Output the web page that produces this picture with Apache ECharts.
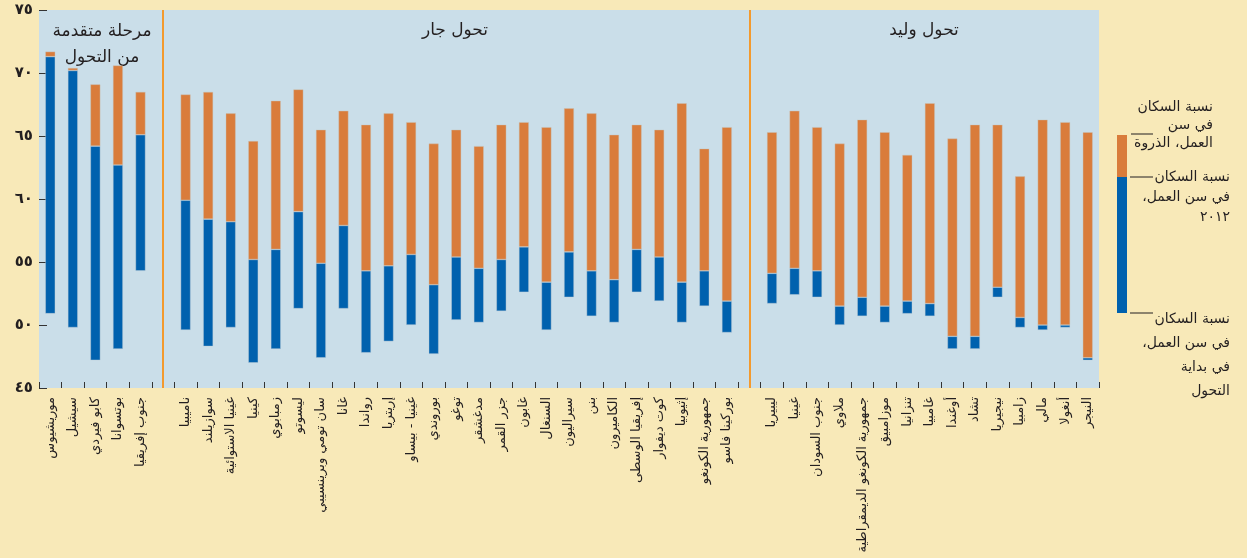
<!DOCTYPE html>
<html>
<head>
<meta charset="utf-8">
<script src="https://cdn.jsdelivr.net/npm/echarts@6/dist/echarts.min.js"></script>
<style>
  html, body { margin: 0; padding: 0; background: #F8E9B8; }
  #chart { width: 1247px; height: 558px; }
</style>
</head>
<body>
<div id="chart"></div>
<script>
// categories ('' = empty slot where the group separator sits)
const countries = [
  'موريشيوس', 'سيشيل', 'كابو فيردي', 'بوتسوانا', 'جنوب إفريقيا',
  '',
  'ناميبيا', 'سوازيلند', 'غينيا الاستوائية', 'كينيا', 'زمبابوي', 'ليسوتو',
  'سان تومي وبرينسيبي', 'غانا', 'رواندا', 'إريتريا', 'غينيا - بيساو', 'بوروندي',
  'توغو', 'مدغشقر', 'جزر القمر', 'غابون', 'السنغال', 'سيراليون', 'بنن',
  'الكاميرون', 'إفريقيا الوسطى', 'كوت ديفوار', 'إثيوبيا', 'جمهورية الكونغو', 'بوركينا فاسو',
  '',
  'ليبيريا', 'غينيا', 'جنوب السودان', 'ملاوي', 'جمهورية الكونغو الديمقراطية',
  'موزامبيق', 'تنزانيا', 'غامبيا', 'أوغندا', 'تشاد', 'نيجيريا', 'زامبيا',
  'مالي', 'أنغولا', 'النيجر'
]

// working-age share at start of transition
const startShare = [
  50.9, 49.8, 47.2, 48.1, 54.3,
  null,
  49.6, 48.3, 49.8, 47.0, 48.1, 51.3, 47.4, 51.3, 47.8, 48.7, 50.0, 47.7,
  50.4, 50.2, 51.1, 52.6, 49.6, 52.2, 50.7, 50.2, 52.6, 51.9, 50.2, 51.5, 49.4,
  null,
  51.7, 52.4, 52.2, 50.0, 50.7, 50.2, 50.9, 50.7, 48.1, 48.1, 52.2, 49.8,
  49.6, 49.8, 47.2
]

// working-age share in 2012
const share2012 = [
  71.3, 70.2, 64.2, 62.7, 65.1,
  null,
  59.9, 58.4, 58.2, 55.2, 56.0, 59.0, 54.9, 57.9, 54.3, 54.7, 55.6, 53.2,
  55.4, 54.5, 55.2, 56.2, 53.4, 55.8, 54.3, 53.6, 56.0, 55.4, 53.4, 54.3, 51.9,
  null,
  54.1, 54.5, 54.3, 51.5, 52.2, 51.5, 51.9, 51.7, 49.1, 49.1, 53.0, 50.6,
  50.0, 50.0, 47.4
]

// peak working-age share
const peakShare = [
  71.7, 70.4, 69.1, 70.6, 68.5,
  null,
  68.3, 68.5, 66.8, 64.6, 67.8, 68.7, 65.5, 67.0, 65.9, 66.8, 66.1, 64.4,
  65.5, 64.2, 65.9, 66.1, 65.7, 67.2, 66.8, 65.1, 65.9, 65.5, 67.6, 64.0, 65.7,
  null,
  65.3, 67.0, 65.7, 64.4, 66.3, 65.3, 63.5, 67.6, 64.8, 65.9, 65.9, 61.8,
  66.3, 66.1, 65.3
]

const yTickLabels = ['٤٥', '٥٠', '٥٥', '٦٠', '٦٥', '٧٠', '٧٥']
const separatorSlots = [5, 31]

const FONT = 'DejaVu Sans'
const BLUE = '#0061AE'
const ORANGE = '#D97C3B'
const INK = '#231F20'

const blueLen = share2012.map((v, i) => v == null ? null : +(v - startShare[i]).toFixed(2))
const orangeLen = peakShare.map((v, i) => v == null ? null : +(v - share2012[i]).toFixed(2))

const chart = echarts.init(document.getElementById('chart'))

chart.setOption({
  backgroundColor: '#F8E9B8',
  animation: false,
  grid: {
    left: 39, right: 148, top: 10, bottom: 170,
    show: true, backgroundColor: '#CADEE9', borderWidth: 0
  },
  xAxis: {
    type: 'category',
    data: countries,
    axisLine: { show: false },
    axisTick: { show: true, inside: true, length: 6, interval: 0, lineStyle: { color: '#333' } },
    axisLabel: {
      interval: 0, rotate: 90, margin: 9,
      fontFamily: FONT, fontSize: 13, color: INK
    }
  },
  yAxis: {
    type: 'value', min: 45, max: 75, interval: 5,
    axisLine: { show: false },
    axisTick: { show: true, inside: true, length: 8, lineStyle: { color: '#333' } },
    splitLine: { show: false },
    axisLabel: {
      margin: 6, fontFamily: FONT, fontSize: 15, fontWeight: 'bold', color: INK,
      formatter: v => yTickLabels[(v - 45) / 5]
    }
  },
  series: [
    {
      type: 'bar', stack: 'r', data: startShare, barWidth: 10,
      itemStyle: { color: 'transparent' }, silent: true,
      markLine: {
        silent: true, symbol: 'none', label: { show: false },
        lineStyle: { color: '#F39A2E', width: 2, type: 'solid' },
        data: separatorSlots.map(s => ({ xAxis: s }))
      }
    },
    {
      type: 'bar', stack: 'r', data: blueLen, barWidth: 10,
      itemStyle: { color: BLUE, borderColor: 'rgba(190,205,215,0.7)', borderWidth: 0.6 }
    },
    {
      type: 'bar', stack: 'r', data: orangeLen, barWidth: 10,
      itemStyle: { color: ORANGE, borderColor: 'rgba(200,195,185,0.7)', borderWidth: 0.6 }
    }
  ],
  graphic: [
    // group titles
    { type: 'text', x: 102, y: 19, style: { text: 'مرحلة متقدمة\nمن التحول', font: '17px ' + FONT, fill: INK, textAlign: 'center', lineHeight: 26 } },
    { type: 'text', x: 455, y: 22, style: { text: 'تحول جار', font: '17px ' + FONT, fill: INK, textAlign: 'center' } },
    { type: 'text', x: 924, y: 22, style: { text: 'تحول وليد', font: '17px ' + FONT, fill: INK, textAlign: 'center' } },
    // legend key
    { type: 'rect', shape: { x: 1117, y: 135, width: 10, height: 42 }, style: { fill: ORANGE } },
    { type: 'rect', shape: { x: 1117, y: 177, width: 10, height: 136 }, style: { fill: BLUE } },
    { type: 'line', shape: { x1: 1131, y1: 134, x2: 1153, y2: 134 }, style: { stroke: INK, lineWidth: 1 } },
    { type: 'line', shape: { x1: 1130, y1: 177, x2: 1153, y2: 177 }, style: { stroke: INK, lineWidth: 1 } },
    { type: 'line', shape: { x1: 1130, y1: 313, x2: 1153, y2: 313 }, style: { stroke: INK, lineWidth: 1 } },
    { type: 'text', x: 1213, y: 98, style: { text: 'نسبة السكان\nفي سن\nالعمل، الذروة', font: '14px ' + FONT, fill: INK, textAlign: 'right', lineHeight: 18 } },
    { type: 'text', x: 1230, y: 167, style: { text: 'نسبة السكان\nفي سن العمل،\u200F\n٢٠١٢', font: '14px ' + FONT, fill: INK, textAlign: 'right', lineHeight: 20 } },
    { type: 'text', x: 1230, y: 307, style: { text: 'نسبة السكان\nفي سن العمل،\u200F\nفي بداية\nالتحول', font: '14px ' + FONT, fill: INK, textAlign: 'right', lineHeight: 24 } }
  ]
})
</script>
</body>
</html>
